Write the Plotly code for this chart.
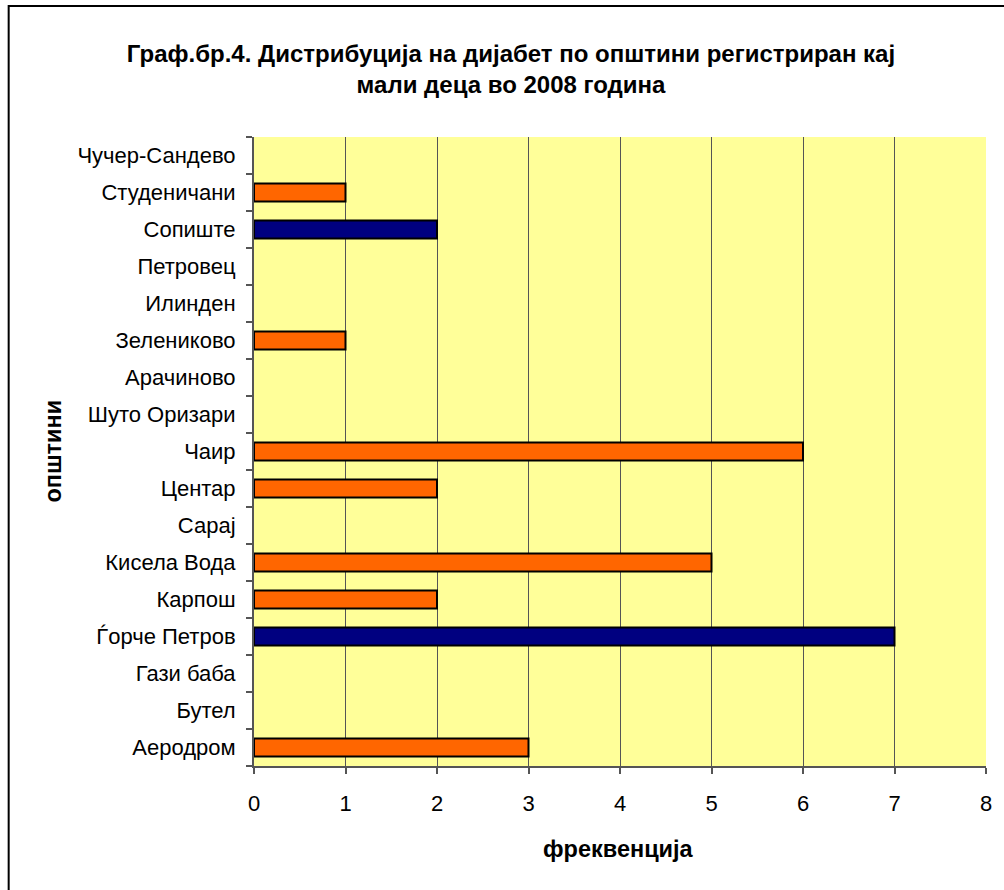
import plotly.graph_objects as go

categories = ["Аеродром", "Бутел", "Гази баба", "Ѓорче Петров", "Карпош", "Кисела Вода",
              "Сарај", "Центар", "Чаир", "Шуто Оризари", "Арачиново", "Зелениково",
              "Илинден", "Петровец", "Сопиште", "Студеничани", "Чучер-Сандево"]
values = [3, 0, 0, 7, 2, 5, 0, 2, 6, 0, 0, 1, 0, 0, 2, 1, 0]
bar_colors = ["#FF6600", "#FF6600", "#FF6600", "#000080", "#FF6600", "#FF6600",
              "#FF6600", "#FF6600", "#FF6600", "#FF6600", "#FF6600", "#FF6600",
              "#FF6600", "#FF6600", "#000080", "#FF6600", "#FF6600"]
x_ticks = [0, 1, 2, 3, 4, 5, 6, 7, 8]

W, H = 1004, 890
L, R, T, B = 254, 16, 137, 124
pw, ph = W - L - R, H - T - B

def px_x(p):
    return (p - L) / pw

def px_y(p):
    return (H - B - p) / ph

line_widths = [2 if v > 0 else 0 for v in values]

fig = go.Figure()
fig.add_trace(go.Bar(
    y=categories, x=values, orientation="h",
    marker=dict(color=bar_colors, line=dict(color="black", width=line_widths)),
    hoverinfo="x+y",
))

FONT = "Liberation Sans, Arial, sans-serif"

fig.update_layout(
    width=W, height=H,
    margin=dict(l=L, r=R, t=T, b=B, pad=0),
    paper_bgcolor="white",
    plot_bgcolor="#FFFF99",
    bargap=0.52,
    showlegend=False,
    font=dict(family=FONT, color="black", size=22),
    title=dict(
        text="<b>Граф.бр.4. Дистрибуција на дијабет по општини регистриран кај<br>мали деца во 2008 година</b>",
        x=511 / W, xanchor="center", xref="container",
        y=1 - 62 / H, yanchor="middle", yref="container",
        font=dict(size=24, family=FONT),
    ),
    xaxis=dict(
        range=[0, 8], tickvals=x_ticks, ticktext=[str(v) for v in x_ticks],
        showgrid=True, gridcolor="#555555", gridwidth=1,
        showline=True, linecolor="#555555", linewidth=2,
        ticks="outside", ticklen=6, tickcolor="#555555", tickwidth=2,
        ticklabelstandoff=11,
        tickfont=dict(size=22),
        zeroline=False,
    ),
    yaxis=dict(
        type="category", categoryorder="array", categoryarray=categories,
        showline=True, linecolor="#555555", linewidth=2,
        ticks="outside", ticklen=6, tickcolor="#555555", tickwidth=2,
        tickson="boundaries", showgrid=False,
        ticklabelstandoff=12,
        tickfont=dict(size=22),
    ),
    annotations=[
        dict(text="<b>фреквенција</b>", xref="paper", yref="paper",
             x=px_x(619), y=px_y(849), xanchor="center", yanchor="middle",
             showarrow=False, font=dict(size=23.5, family=FONT)),
        dict(text="<b>општини</b>", xref="paper", yref="paper",
             x=px_x(52), y=px_y(451), xanchor="center", yanchor="middle",
             textangle=-90, showarrow=False, font=dict(size=23.5, family=FONT)),
    ],
    shapes=[dict(
        type="rect", xref="paper", yref="paper",
        x0=px_x(8), x1=px_x(1020), y0=px_y(6), y1=px_y(910),
        line=dict(color="black", width=2), fillcolor="rgba(0,0,0,0)", layer="below",
    )],
)

fig.write_html("out.html")
